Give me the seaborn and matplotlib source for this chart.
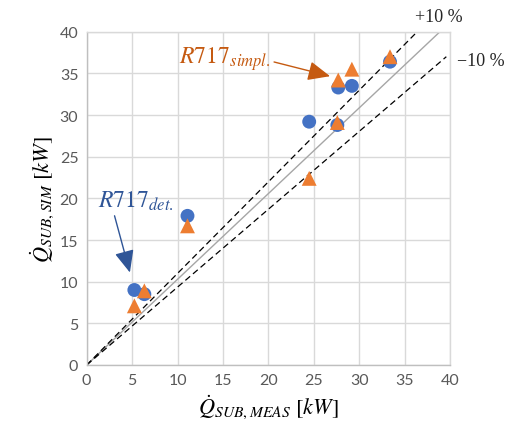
import matplotlib
matplotlib.use("Agg")
import matplotlib.pyplot as plt
import seaborn as sns
import pandas as pd

# Data
meas = [5.25, 6.35, 11.1, 24.5, 27.7, 29.2, 27.6, 33.4]
sim_det = [9.0, 8.5, 17.9, 29.2, 33.3, 33.5, 28.8, 36.4]
sim_simpl = [7.1, 8.9, 16.7, 22.4, 34.2, 35.5, 29.1, 37.0]
ticks = [0, 5, 10, 15, 20, 25, 30, 35, 40]

sns.set_theme(style="white")
plt.rcParams['font.family'] = ['Lato', 'DejaVu Sans']
plt.rcParams['mathtext.fontset'] = 'stix'

fig = plt.figure(figsize=(5.09, 4.39), dpi=100)
ax = fig.add_axes([0.1703, 0.1663, 0.7137, 0.7592])

blue = "#4472C4"
orange = "#ED7D31"

# reference lines
ax.plot([0, 38.9], [0, 40], color="#A6A6A6", lw=1.0, zorder=2)
ax.plot([0, 36.4], [0, 40], color="black", lw=0.9, ls=(0, (5, 3)), zorder=2)
ax.plot([0, 39.6], [0, 37.0], color="black", lw=0.9, ls=(0, (5, 3)), zorder=2)

df = pd.DataFrame({"meas": meas, "det": sim_det, "simpl": sim_simpl})
sns.scatterplot(data=df, x="meas", y="det", ax=ax, color=blue, marker="o",
                s=100, edgecolor="none", zorder=3)
sns.scatterplot(data=df, x="meas", y="simpl", ax=ax, color=orange, marker="^",
                s=115, edgecolor="none", zorder=4)

ax.set_xlim(0, 40)
ax.set_ylim(0, 40)
ax.set_xticks(ticks)
ax.set_yticks(ticks)
ax.tick_params(axis="both", labelsize=11.5, labelcolor="#595959", length=0, pad=6)
ax.grid(True, color="#D9D9D9", lw=1.0)
ax.set_axisbelow(True)
for s in ["top", "right"]:
    ax.spines[s].set_color("#D9D9D9")
    ax.spines[s].set_linewidth(1.0)
for s in ["left", "bottom"]:
    ax.spines[s].set_color("#BFBFBF")
    ax.spines[s].set_linewidth(1.0)

ax.set_xlabel(r"$\dot{Q}_{SUB,MEAS}\ [kW]$", fontsize=16, color="black", labelpad=4)
ax.set_ylabel(r"$\dot{Q}_{SUB,SIM}\ [kW]$", fontsize=16, color="black", labelpad=2)

# annotations
ax.annotate(r"$R717_{simpl.}$", xy=(26.8, 34.66), xytext=(10.2, 36.8),
            fontsize=17, color="#C55A11", va="center", ha="left",
            arrowprops=dict(arrowstyle="-|>,head_length=0.8,head_width=0.35",
                            color="#C55A11", lw=1.0, shrinkA=0, shrinkB=0,
                            relpos=(1.0, 0.4)),
            annotation_clip=False)
ax.annotate(r"$R717_{det.}$", xy=(4.76, 11.1), xytext=(1.3, 19.7),
            fontsize=17, color="#2F5597", va="center", ha="left",
            arrowprops=dict(arrowstyle="-|>,head_length=0.8,head_width=0.35",
                            color="#2F5597", lw=1.0, shrinkA=0, shrinkB=0,
                            relpos=(0.2, 0.0)),
            annotation_clip=False)

fig.text(415 / 509, 1 - 18 / 439, "+10 %", fontsize=13, family="Liberation Serif",
         va="center", ha="left")
fig.text(457 / 509, 1 - 62 / 439, "\u221210 %", fontsize=13, family="Liberation Serif",
         va="center", ha="left")

fig.savefig("out.png", dpi=100)
